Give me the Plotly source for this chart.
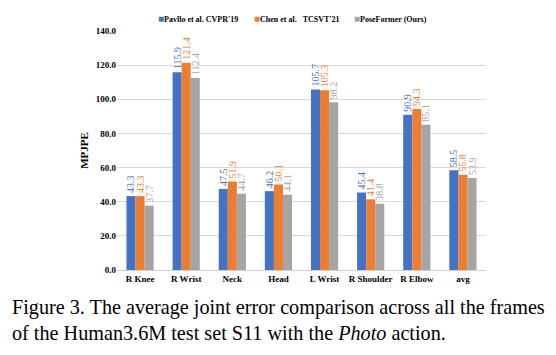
import plotly.graph_objects as go

categories = ["R Knee", "R Wrist", "Neck", "Head", "L Wrist", "R Shoulder", "R Elbow", "avg"]
pavllo = [43.3, 115.9, 47.5, 46.2, 105.7, 45.4, 90.9, 58.5]
chen = [43.3, 121.4, 51.9, 50.1, 105.3, 41.4, 94.3, 55.8]
poseformer = [37.7, 112.4, 44.7, 44.1, 98.2, 38.8, 85.1, 53.9]
series_names = ["Pavllo et al. CVPR'19", "Chen et al.   TCSVT'21", "PoseFormer (Ours)"]
colors = ["#4472C4", "#ED7D31", "#A5A5A5"]
y_ticks = [0, 20, 40, 60, 80, 100, 120, 140]
legend_x = [0.106, 0.366, 0.637]

serif = "Liberation Serif, Times New Roman, serif"

fig = go.Figure()
for name, vals, col in zip(series_names, [pavllo, chen, poseformer], colors):
    fig.add_trace(go.Bar(
        x=categories, y=vals, name=name,
        marker=dict(color=col, line=dict(width=0)),
        text=[f"{v:.1f}" for v in vals],
        textposition="outside", textangle=-90,
        textfont=dict(family=serif, size=10, color=col),
        cliponaxis=False, constraintext="none",
        showlegend=False,
    ))

annotations = [dict(
    xref="paper", yref="paper", x=-0.291, y=-0.1, xanchor="left", yanchor="top",
    align="left", showarrow=False,
    text="Figure 3. The average joint error comparison across all the frames<br>of the Human3.6M test set S11 with the <i>Photo</i> action.",
    font=dict(family=serif, size=20.2, color="black"),
)]
for name, col, lx in zip(series_names, colors, legend_x):
    annotations.append(dict(
        xref="paper", yref="paper", x=lx, y=1.054, xanchor="left", yanchor="middle",
        showarrow=False, align="left",
        text=f"<span style='color:{col};font-size:10px'>■</span>{name.replace('   ', '&nbsp;&nbsp;&nbsp;')}",
        font=dict(family=serif, size=8, color="black", weight="bold"),
    ))

fig.update_layout(
    width=548, height=347,
    margin=dict(l=109, r=70, t=23, b=85, autoexpand=False),
    paper_bgcolor="white", plot_bgcolor="white",
    barmode="group", bargap=0.41, bargroupgap=0,
    font=dict(family=serif, size=9, color="black"),
    xaxis=dict(showgrid=False, showline=True, linecolor="#D0D0D0", linewidth=1,
               automargin=False,
               ticks="", tickfont=dict(family=serif, size=9, weight="bold")),
    yaxis=dict(range=[0, 140], tickvals=y_ticks, ticktext=[f"{t:.1f}" for t in y_ticks],
               showgrid=True, gridcolor="#D9D9D9", gridwidth=1, zeroline=False,
               showline=False, ticks="", automargin=False,
               tickfont=dict(family=serif, size=9, weight="bold"),
               title=dict(text="MPJPE", font=dict(family=serif, size=11, weight="bold"), standoff=4)),
    annotations=annotations,
)

fig.write_html("out.html")
